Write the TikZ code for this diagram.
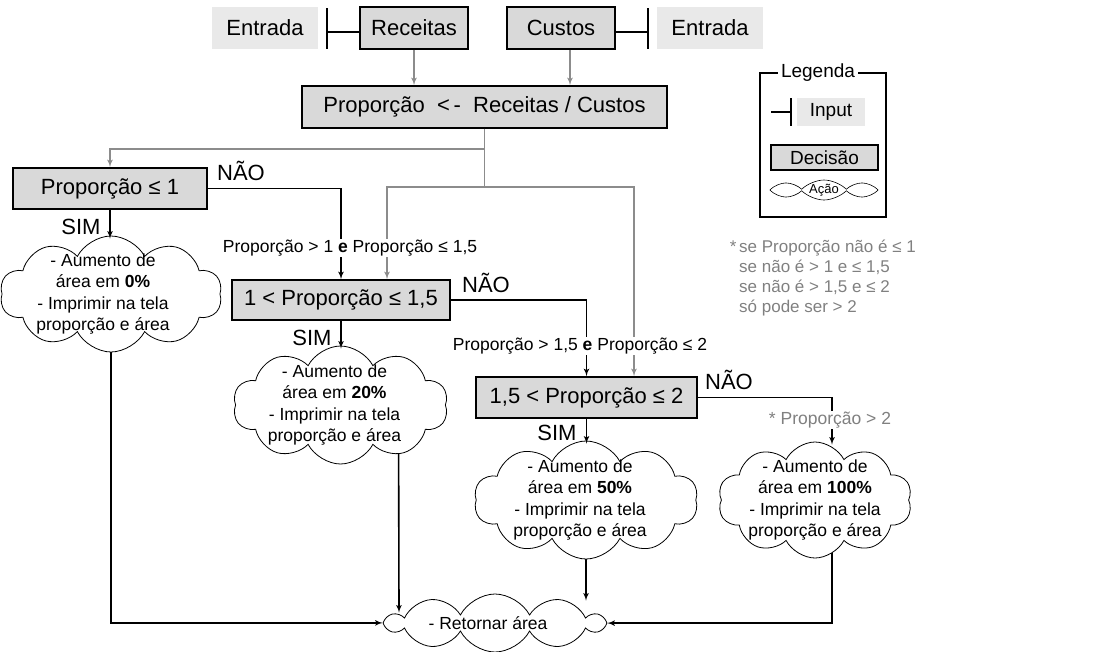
\documentclass[tikz,border=0pt]{standalone}
\usepackage{fontspec}
\setmainfont{Liberation Sans}
\usetikzlibrary{arrows,%
                shapes.symbols,%
                backgrounds,%
                positioning}

\definecolor{cinzacaixa}{RGB}{217,217,217}
\definecolor{cinzaentrada}{RGB}{233,233,233}
\definecolor{cinzalinha}{RGB}{140,140,140}
\definecolor{cinzatexto}{RGB}{128,128,128}
\newcommand{\fonte}[2]{\fontsize{#1}{#2}\selectfont}

\begin{document}
\begin{tikzpicture}[>=latex', x=1pt, y=-1pt]
  \tikzset{decisao/.style = {draw, line width=1.6pt, fill=cinzacaixa,
                             inner sep=0pt, font=\fonte{22}{26}}}
  \tikzset{entrada/.style = {fill=cinzaentrada, inner sep=0pt,
                             font=\fonte{22}{26}, minimum height=42}}
  \tikzset{acao/.style = {cloud, draw, line width=0.8pt, fill=white,
                          cloud puffs=10, cloud puff arc=125,
                          cloud ignores aspect, inner sep=0pt}}
  \tikzset{texto acao/.style = {align=center, font=\fonte{17.5}{21.5}}}
  \tikzset{fluxo/.style = {->, line width=1.6pt}}
  \tikzset{fluxo cinza/.style = {fluxo, cinzalinha}}
  \tikzset{barra/.style = {line width=1.5pt}}
  \tikzset{rotulo/.style = {font=\fonte{22}{26}, inner sep=0pt}}
  \tikzset{condicao/.style = {fill=white, font=\fonte{17.5}{21}, inner sep=1pt}}

  \useasboundingbox (0,0) rectangle (1105,651);

  % entradas
  \node[entrada, minimum width=106] (entA) at (265,28) {Entrada};
  \node[decisao, minimum width=108, minimum height=42] (rec) at (414,28) {Receitas};
  \node[decisao, minimum width=108, minimum height=42] (cus) at (561,28) {Custos};
  \node[entrada, minimum width=106] (entB) at (710,28) {Entrada};

  \draw[barra] ([yshift=-4pt]rec.west) -- ++(-32,0) coordinate (barA);
  \draw[barra] ([yshift=24pt]barA) -- ([yshift=-17pt]barA);
  \draw[barra] ([yshift=-4pt]cus.east) -- ++(32,0) coordinate (barB);
  \draw[barra] ([yshift=24pt]barB) -- ([yshift=-17pt]barB);

  \node[decisao, minimum width=365, minimum height=42] (prop) at (484.5,107)
       {Proporção\ \ <\,-\ \ Receitas / Custos};

  \draw[fluxo cinza] (rec.south) -- (rec.south |- prop.north);
  \draw[fluxo cinza] ([xshift=9pt]cus.south) -- ([xshift=9pt]cus.south |- prop.north);

  % decisoes
  \node[decisao, minimum width=194, minimum height=41] (p1) at (110,188.5) {Proporção ≤ 1};
  \node[decisao, minimum width=218, minimum height=40] (p2) at (341,300) {1 < Proporção ≤ 1,5};
  \node[decisao, minimum width=221, minimum height=41] (p3) at (586.5,397.5) {1,5 < Proporção ≤ 2};

  % acoes
  \node[acao, minimum width=222, minimum height=116,
        label={[texto acao, xshift=-8pt]center:{- Aumento de\\área em \textbf{0\%}\\- Imprimir na tela\\proporção e área}}]
        (c1) at (111,294) {};
  \node[acao, minimum width=215, minimum height=118,
        label={[texto acao, xshift=-6pt]center:{- Aumento de\\área em \textbf{20\%}\\- Imprimir na tela\\proporção e área}}]
        (c2) at (340.5,405) {};
  \node[acao, minimum width=224, minimum height=118,
        label={[texto acao, xshift=-6pt]center:{- Aumento de\\área em \textbf{50\%}\\- Imprimir na tela\\proporção e área}}]
        (c3) at (586,500) {};
  \node[acao, minimum width=194, minimum height=116,
        label={[texto acao]center:{- Aumento de\\área em \textbf{100\%}\\- Imprimir na tela\\proporção e área}}]
        (c4) at (815,500) {};
  \node[acao, minimum width=216, minimum height=58,
        label={[texto acao, xshift=-7pt]center:- Retornar área}]
        (fim) at (495,623) {};

  % ligacoes
  \draw[fluxo cinza] (prop.south) -- ++(0,20) -| (p1.north);
  \draw[fluxo cinza] (prop.south) -- ++(0,58) coordinate (ramo) -| ([xshift=46pt]p2.north);
  \draw[fluxo cinza] (ramo) -| ([xshift=47.5pt]p3.north);

  \draw[fluxo] (p1.east) -| (p2.north);
  \draw[fluxo] (p2.east) -| (p3.north);
  \draw[fluxo] (p3.east) -| ([xshift=17pt,yshift=-3pt]c4.north);

  \draw[fluxo] (p1.south) -- ([yshift=-3pt]p1.south |- c1.north);
  \draw[fluxo] (p2.south) -- ([yshift=-3pt]p2.south |- c2.north);
  \draw[fluxo] (p3.south) -- ([yshift=-3pt]p3.south |- c3.north);

  \begin{scope}[on background layer]
  \draw[fluxo] (c1.center) |- (fim.west);
  \draw[fluxo] ([xshift=58pt]c2.center) -- ([xshift=-96pt,yshift=-19pt]fim.north);
  \draw[fluxo] (c3.center) -- ([xshift=91pt,yshift=-7pt]fim.north);
  \draw[fluxo] ([xshift=17pt]c4.center) |- (fim.east);
  \end{scope}

  % rotulos
  \node[rotulo] (nao1) at (241,171) {NÃO};
  \node[rotulo] (nao2) at (486,283) {NÃO};
  \node[rotulo] (nao3) at (729,380) {NÃO};
  \node[rotulo] (sim1) at (81,227) {SIM};
  \node[rotulo] (sim2) at (312,338) {SIM};
  \node[rotulo] (sim3) at (557,433) {SIM};

  \node[condicao] (cond2) at (350,248) {Proporção > 1 \textbf{e} Proporção ≤ 1,5};
  \node[condicao] (cond3) at (580,346) {Proporção > 1,5 \textbf{e} Proporção ≤ 2};
  \node[condicao, text=cinzatexto] (cond4) at (830,420) {*\ Proporção > 2};

  % legenda
  \draw[line width=1.2pt] (760,73) rectangle (886,217);
  \node[fill=white, inner xsep=3pt, inner ysep=0pt, font=\fonte{19}{22}] (leg) at (818,73) {Legenda};
  \node[entrada, font=\fonte{19}{22}, minimum width=68, minimum height=28] (legin) at (831,112) {Input};
  \draw[barra] ([xshift=-6pt]legin.west) coordinate (barC) -- ++(-20,0);
  \draw[barra] ([yshift=14pt]barC) -- ([yshift=-14pt]barC);
  \node[decisao, font=\fonte{19}{22}, minimum width=107, minimum height=25] (legdec) at (824.5,157.5) {Decisão};
  \node[acao, line width=0.6pt, cloud puffs=8, cloud puff arc=90, minimum width=108, minimum height=20,
        label={[font=\fonte{13}{15}]center:Ação}] (legacao) at (824,190) {};

  % nota
  \node[anchor=north west, align=left, text=cinzatexto, font=\fonte{17}{20}, inner sep=0pt]
       (nota) at (739,240) {\llap{*\,}se Proporção não é ≤ 1\\se não é > 1 e ≤ 1,5\\se não é > 1,5 e ≤ 2\\só pode ser > 2};
\end{tikzpicture}
\end{document}
